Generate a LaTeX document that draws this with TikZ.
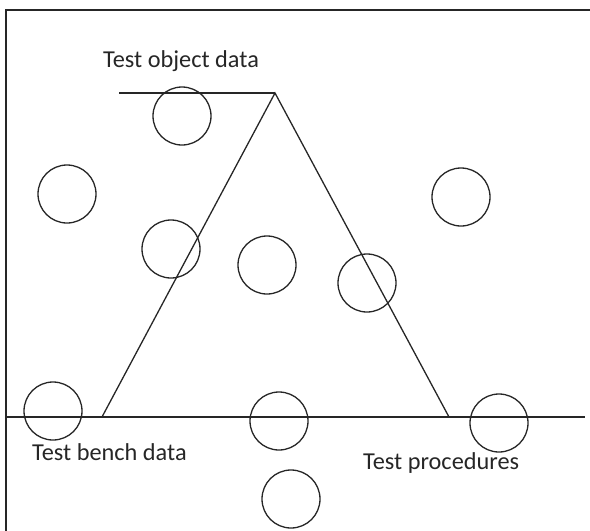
\documentclass[tikz,border=0pt]{standalone}
\usepackage{fontspec}
\setmainfont{Carlito}
\begin{document}
\begin{tikzpicture}[x=1pt,y=-1pt,
  ln/.style={line width=1.3pt,draw=black!85},
  blob/.style={circle,draw=black!85,line width=1.3pt,minimum size=58pt,inner sep=0pt},
  lbl/.style={font=\fontsize{24.3}{27}\selectfont,text=black!85,inner sep=0pt,anchor=base west}]
\useasboundingbox (0,0) rectangle (590,531);
% frame
\coordinate (fbl) at (6,535);
\coordinate (ftl) at (6,10);
\coordinate (ftr) at (595,10);
\draw[line width=1.6pt,draw=black!85] (fbl) -- (ftl) -- (ftr);
% triangle and lines
\coordinate (apex) at (275,93);
\coordinate (tl) at (119,93);
\coordinate (bl) at (102,417);
\coordinate (br) at (449,417);
\coordinate (gl) at (6,417);
\coordinate (gr) at (585,417);
\draw[ln] (tl) -- (apex);
\draw[ln] (bl) -- (apex) -- (br);
\draw[ln] (gl) -- (gr);
% circles
\node[blob] (c1) at (182,116) {};
\node[blob] (c2) at (67,194) {};
\node[blob] (c3) at (171,249) {};
\node[blob] (c4) at (267,265) {};
\node[blob] (c5) at (367,283) {};
\node[blob] (c6) at (461,197) {};
\node[blob] (c7) at (53,411) {};
\node[blob] (c8) at (279,421) {};
\node[blob] (c9) at (291,499) {};
\node[blob] (c10) at (499,423) {};
% labels
\node[lbl] (t1) at (103,67) {Test object data};
\node[lbl] (t2) at (32,460) {Test bench data};
\node[lbl] (t3) at (363,469) {Test procedures};
\end{tikzpicture}
\end{document}
